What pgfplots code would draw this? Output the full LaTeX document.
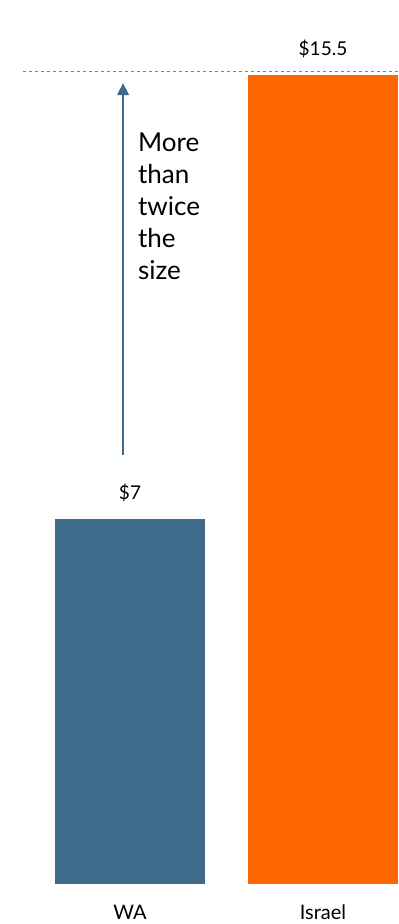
\documentclass[border=0pt]{standalone}
\usepackage{pgfplots}
\pgfplotsset{compat=1.18}
\usetikzlibrary{arrows.meta}
\usepackage{fontspec}
\setmainfont{Lato}
\definecolor{waBlue}{HTML}{3E6B8A}
\definecolor{isOrange}{HTML}{FF6600}
\begin{document}
\begin{tikzpicture}[x=1pt,y=1pt]
\path[use as bounding box] (0,0) rectangle (399,924);
\begin{axis}[
  at={(0pt,40pt)}, anchor=south west,
  scale only axis, width=399pt, height=861.3pt,
  xmin=-0.6736, xmax=1.3938, ymin=0, ymax=16.5,
  xtick={0,1}, xticklabels={WA,Israel}, ytick=\empty,
  axis line style={draw=none}, major tick length=0pt,
  xticklabel style={anchor=center, yshift=-28pt, font=\fontsize{20}{24}\selectfont},
  clip=false,
  ybar, bar width=150pt, bar shift=0pt,
  /pgf/number format/assume math mode=true,
  nodes near coords={\$\pgfmathprintnumber{\pgfplotspointmeta}},
  every node near coord/.append style={anchor=center, yshift=26pt, font=\fontsize{19}{22}\selectfont, text=black},
]
\addplot[fill=waBlue, draw=none] coordinates {(0,7)};
\addplot[fill=isOrange, draw=none] coordinates {(1,15.5)};
\draw[gray, dashed, line width=0.8pt] (axis cs:-0.555,15.57) -- (axis cs:1.3938,15.57);
\draw[waBlue, line width=1.2pt, -{Triangle[length=12pt,width=12pt]}] (axis cs:-0.036,8.22) -- (axis cs:-0.036,15.34);
\node[anchor=north west, align=left, font=\fontsize{26}{32}\selectfont, inner sep=0pt] at (axis cs:0.041,14.4) {More\\than\\twice\\the\\size};
\end{axis}
\end{tikzpicture}
\end{document}
